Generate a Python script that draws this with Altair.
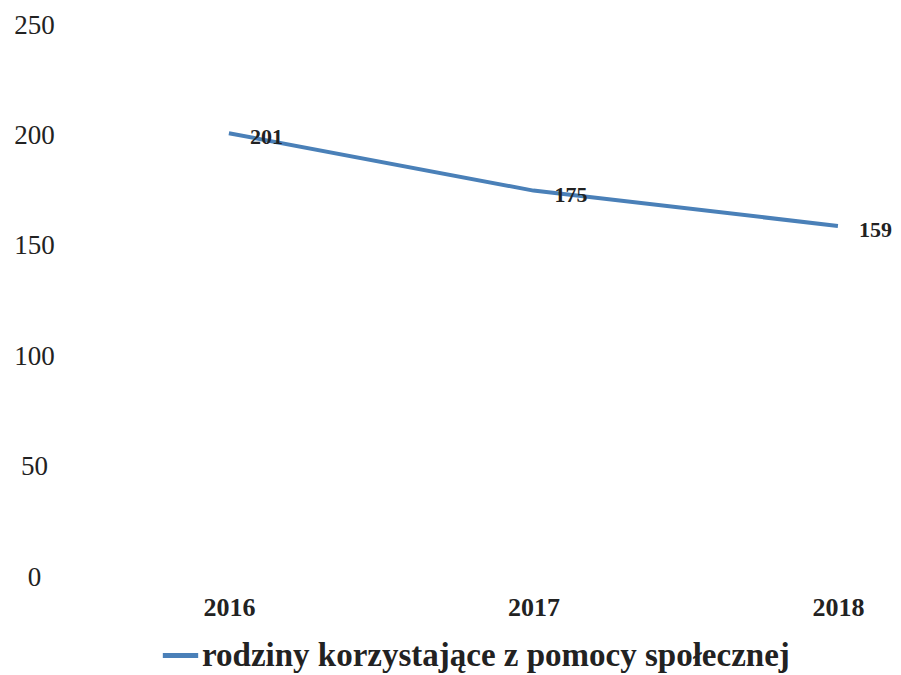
import altair as alt
import pandas as pd

years = [2016, 2017, 2018]
values = [201, 175, 159]
series = "rodziny korzystające z pomocy społecznej"
y_ticks = [0, 50, 100, 150, 200, 250]

df = pd.DataFrame({"year": years, "value": values, "series": [series] * len(years)})

FONT = "Liberation Serif"

x = alt.X("year:Q", scale=alt.Scale(domain=[2015.511, 2018.171], nice=False, zero=False),
          axis=alt.Axis(values=years, format="d", title=None, domain=False, ticks=False, grid=False,
                        labelFont=FONT, labelFontSize=26, labelFontWeight="bold", labelColor="#222",
                        labelPadding=17))
y = alt.Y("value:Q", scale=alt.Scale(domain=[0, 250], nice=False),
          axis=alt.Axis(values=y_ticks, title=None, domain=False, ticks=False, grid=False,
                        labelFont=FONT, labelFontSize=27, labelColor="#222",
                        labelAlign="center", labelPadding=46))

line = alt.Chart(df).mark_line(strokeWidth=4).encode(
    x=x, y=y,
    color=alt.Color("series:N", scale=alt.Scale(range=["#4a80b8"]),
                    legend=alt.Legend(title=None, orient="none", legendX=80, legendY=610,
                                      symbolType="stroke", symbolSize=1250, symbolStrokeWidth=5,
                                      labelFont=FONT, labelFontSize=33, labelFontWeight="bold",
                                      labelColor="#222", labelOffset=1, labelLimit=800)),
)

labels = alt.Chart(df).mark_text(font=FONT, fontSize=22, fontWeight="bold", align="left",
                                 baseline="middle", dx=21, dy=4, color="#222").encode(
    x="year:Q", y="value:Q", text="value:Q"
)

chart = (line + labels).properties(
    width=810, height=552,
    padding={"left": 72, "top": 17, "right": 3, "bottom": 98},
    autosize=alt.AutoSizeParams(type="none"),
).configure(background="white").configure_view(strokeWidth=0)

chart.save("out.html", embed_options={"renderer": "svg", "actions": False})
